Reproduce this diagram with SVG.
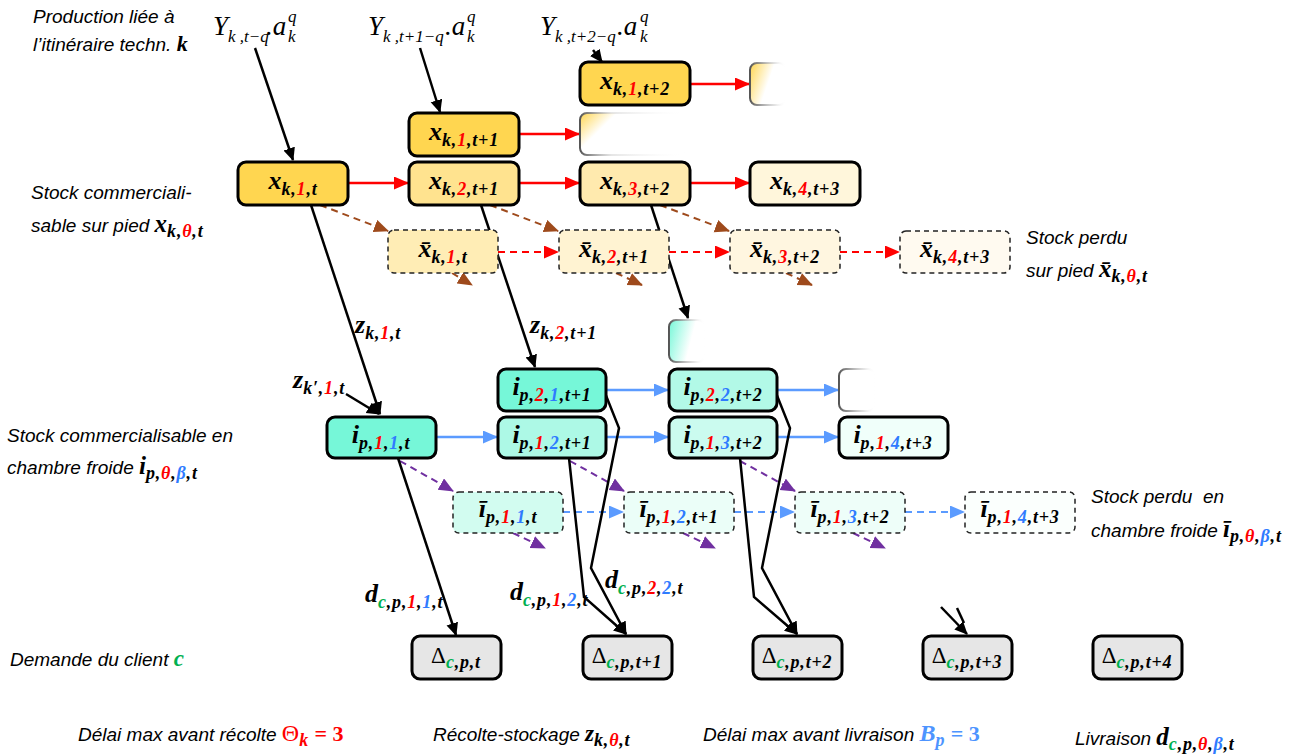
<svg xmlns="http://www.w3.org/2000/svg" width="1307" height="756" viewBox="0 0 1307 756">
<style>
.lab{font-family:"Liberation Sans",Arial,sans-serif;font-style:italic;font-size:19px;fill:#000}
.m{font-family:"Liberation Serif","DejaVu Serif",serif;font-style:italic;font-weight:bold;font-size:26px;fill:#000}
.s{font-size:18px;letter-spacing:0.8px}
.tm{font-family:"Liberation Serif","Times New Roman",serif;font-style:italic;font-size:27px;fill:#000}
.ts{font-size:17px}
.up{font-style:normal;font-weight:normal}
.r{fill:#FF0000}
.b{fill:#2F7BFF}
.g{fill:#00B050}
.node{stroke:#000;stroke-width:3}
.dash{stroke:#222;stroke-width:1.5;stroke-dasharray:5 4}
.blk{stroke:#000;stroke-width:2.5;fill:none}
.red{stroke:#FF0000;stroke-width:2.5;fill:none}
.blu{stroke:#5B9BFF;stroke-width:2.5;fill:none}
.redd{stroke:#FF0000;stroke-width:2;fill:none;stroke-dasharray:7 5}
.blud{stroke:#5B9BFF;stroke-width:2;fill:none;stroke-dasharray:7 5}
.brn{stroke:#9E4A1C;stroke-width:2;fill:none;stroke-dasharray:7 5}
.pur{stroke:#7030A0;stroke-width:2;fill:none;stroke-dasharray:7 5}
</style>
<defs>
<marker id="ak" markerUnits="userSpaceOnUse" markerWidth="14" markerHeight="14" refX="12" refY="6" orient="auto"><path d="M0,0 L13,6 L0,12 Z" fill="#000"/></marker>
<marker id="ar" markerUnits="userSpaceOnUse" markerWidth="16" markerHeight="14" refX="14" refY="6.5" orient="auto"><path d="M0,0 L15,6.5 L0,13 Z" fill="#FF0000"/></marker>
<marker id="ab" markerUnits="userSpaceOnUse" markerWidth="16" markerHeight="14" refX="14" refY="6.5" orient="auto"><path d="M0,0 L15,6.5 L0,13 Z" fill="#5B9BFF"/></marker>
<marker id="an" markerUnits="userSpaceOnUse" markerWidth="16" markerHeight="14" refX="14" refY="6.5" orient="auto"><path d="M0,0 L15,6.5 L0,13 Z" fill="#9E4A1C"/></marker>
<marker id="ap" markerUnits="userSpaceOnUse" markerWidth="16" markerHeight="14" refX="14" refY="6.5" orient="auto"><path d="M0,0 L15,6.5 L0,13 Z" fill="#7030A0"/></marker>
<linearGradient id="fy" x1="0" y1="0" x2="1" y2="0.4"><stop offset="0" stop-color="#FFD650"/><stop offset="0.3" stop-color="#FFFFFF"/></linearGradient>
<linearGradient id="fyb" x1="0" y1="0" x2="1" y2="0.4"><stop offset="0" stop-color="#FFD650"/><stop offset="0.6" stop-color="#FFFFFF"/></linearGradient>
<linearGradient id="ft" x1="0" y1="0" x2="1" y2="0.3"><stop offset="0" stop-color="#76F7D8"/><stop offset="0.7" stop-color="#FFFFFF"/></linearGradient>
<linearGradient id="fs" x1="0" y1="0" x2="1" y2="0"><stop offset="0" stop-color="#555"/><stop offset="0.3" stop-color="#CCC" stop-opacity="0.5"/><stop offset="1" stop-color="#FFF" stop-opacity="0"/></linearGradient>
<linearGradient id="fs2" x1="0" y1="0" x2="1" y2="0"><stop offset="0" stop-color="#555"/><stop offset="0.7" stop-color="#CCC" stop-opacity="0.5"/><stop offset="1" stop-color="#FFF" stop-opacity="0"/></linearGradient>
</defs>

<!-- left / right labels -->
<g id="labels">
<text class="lab" x="33" y="23">Production liée à</text>
<text class="lab" x="33" y="51">l’itinéraire techn. <tspan class="m" style="font-size:22px">k</tspan></text>
<text class="lab" x="31" y="199">Stock commerciali-</text>
<text class="lab" x="31" y="232">sable sur pied <tspan class="m" style="font-size:25px">x</tspan><tspan class="m s" dy="5">k,</tspan><tspan class="m s r">θ</tspan><tspan class="m s">,t</tspan></text>
<text class="lab" x="1026" y="244">Stock perdu</text>
<text class="lab" x="1026" y="277">sur pied <tspan class="m" style="font-size:25px">x̄</tspan><tspan class="m s" dy="5">k,</tspan><tspan class="m s r">θ</tspan><tspan class="m s">,t</tspan></text>
<text class="lab" x="7" y="442">Stock commercialisable en</text>
<text class="lab" x="7" y="474">chambre froide <tspan class="m" style="font-size:25px">i</tspan><tspan class="m s" dy="5">p,</tspan><tspan class="m s r">θ</tspan><tspan class="m s">,</tspan><tspan class="m s b">β</tspan><tspan class="m s">,t</tspan></text>
<text class="lab" x="1091" y="503" xml:space="preserve">Stock perdu  en</text>
<text class="lab" x="1091" y="537">chambre froide <tspan class="m" style="font-size:25px">ī</tspan><tspan class="m s" dy="5">p,</tspan><tspan class="m s r">θ</tspan><tspan class="m s">,</tspan><tspan class="m s b">β</tspan><tspan class="m s">,t</tspan></text>
<text class="lab" x="10" y="666">Demande du client <tspan class="m g" style="font-size:23px">c</tspan></text>
<text class="lab" x="78" y="741">Délai max avant récolte <tspan class="m up r" style="font-size:24px">Θ</tspan><tspan class="m s r" dy="5">k</tspan><tspan class="m up r" style="font-size:22px;font-weight:bold" dy="-5"> = 3</tspan></text>
<text class="lab" x="433" y="741">Récolte-stockage <tspan class="m" style="font-size:23px">z</tspan><tspan class="m s" dy="5">k,</tspan><tspan class="m s r">θ</tspan><tspan class="m s">,t</tspan></text>
<text class="lab" x="703" y="741">Délai max avant livraison <tspan class="m" style="font-size:24px;fill:#4D94FF">B</tspan><tspan class="m s" dy="5" style="fill:#4D94FF">p</tspan><tspan class="m up" style="font-size:22px;font-weight:bold;fill:#4D94FF" dy="-5"> = 3</tspan></text>
<text class="lab" x="1075" y="745">Livraison <tspan class="m" style="font-size:25px">d</tspan><tspan class="m s g" dy="5">c</tspan><tspan class="m s">,p,</tspan><tspan class="m s r">θ</tspan><tspan class="m s">,</tspan><tspan class="m s b">β</tspan><tspan class="m s">,t</tspan></text>
</g>

<!-- top production formulas -->
<g id="prod1">
<text class="tm" x="213" y="35">Y<tspan class="ts" dy="7">k ,t−q</tspan></text>
<text class="tm" x="266" y="35">.a</text>
<text class="tm ts" x="288" y="22">q</text><text class="tm ts" x="288" y="42">k</text>
</g>
<g id="prod2">
<text class="tm" x="368" y="35">Y<tspan class="ts" dy="7">k ,t+1−q</tspan></text>
<text class="tm" x="445" y="35">.a</text>
<text class="tm ts" x="467" y="22">q</text><text class="tm ts" x="467" y="42">k</text>
</g>
<g id="prod3">
<text class="tm" x="540" y="35">Y<tspan class="ts" dy="7">k ,t+2−q</tspan></text>
<text class="tm" x="617" y="35">.a</text>
<text class="tm ts" x="640" y="22">q</text><text class="tm ts" x="640" y="42">k</text>
</g>

<!-- connectors -->
<g id="connectors">
<line class="blk" x1="255" y1="48" x2="293" y2="160" marker-end="url(#ak)"/>
<line class="blk" x1="420" y1="48" x2="440" y2="112" marker-end="url(#ak)"/>
<line class="blk" x1="593" y1="50" x2="602" y2="62" marker-end="url(#ak)"/>
<line class="red" x1="348" y1="183" x2="408" y2="183" marker-end="url(#ar)"/>
<line class="red" x1="519" y1="183" x2="579" y2="183" marker-end="url(#ar)"/>
<line class="red" x1="690" y1="183" x2="749" y2="183" marker-end="url(#ar)"/>
<line class="red" x1="519" y1="134" x2="579" y2="134" marker-end="url(#ar)"/>
<line class="red" x1="690" y1="84" x2="749" y2="84" marker-end="url(#ar)"/>
<line class="redd" x1="498" y1="252" x2="558" y2="252" marker-end="url(#ar)"/>
<line class="redd" x1="669" y1="252" x2="729" y2="252" marker-end="url(#ar)"/>
<line class="redd" x1="840" y1="252" x2="899" y2="252" marker-end="url(#ar)"/>
<line class="brn" x1="320" y1="205" x2="388" y2="231" marker-end="url(#an)"/>
<line class="brn" x1="490" y1="205" x2="558" y2="231" marker-end="url(#an)"/>
<line class="brn" x1="660" y1="205" x2="729" y2="231" marker-end="url(#an)"/>
<line class="brn" x1="452" y1="273" x2="472" y2="285" marker-end="url(#an)"/>
<line class="brn" x1="616" y1="273" x2="642" y2="285" marker-end="url(#an)"/>
<line class="brn" x1="786" y1="273" x2="812" y2="285" marker-end="url(#an)"/>
<line class="blk" x1="311" y1="205" x2="380" y2="414" marker-end="url(#ak)"/>
<line class="blk" x1="481" y1="205" x2="535" y2="367" marker-end="url(#ak)"/>
<line class="blk" x1="651" y1="205" x2="688" y2="318" marker-end="url(#ak)"/>
<line class="blk" x1="346" y1="394" x2="379" y2="414" marker-end="url(#ak)"/>
<line class="blu" x1="436" y1="437" x2="497" y2="437" marker-end="url(#ab)"/>
<line class="blu" x1="606" y1="437" x2="668" y2="437" marker-end="url(#ab)"/>
<line class="blu" x1="606" y1="390" x2="668" y2="390" marker-end="url(#ab)"/>
<line class="blu" x1="777" y1="437" x2="838" y2="437" marker-end="url(#ab)"/>
<line class="blu" x1="777" y1="390" x2="838" y2="390" marker-end="url(#ab)"/>
<line class="blud" x1="563" y1="512" x2="623" y2="512" marker-end="url(#ab)"/>
<line class="blud" x1="734" y1="512" x2="794" y2="512" marker-end="url(#ab)"/>
<line class="blud" x1="905" y1="512" x2="964" y2="512" marker-end="url(#ab)"/>
<line class="pur" x1="400" y1="461" x2="453" y2="491" marker-end="url(#ap)"/>
<line class="pur" x1="570" y1="461" x2="624" y2="491" marker-end="url(#ap)"/>
<line class="pur" x1="740" y1="461" x2="795" y2="491" marker-end="url(#ap)"/>
<line class="pur" x1="513" y1="533" x2="545" y2="548" marker-end="url(#ap)"/>
<line class="pur" x1="683" y1="533" x2="715" y2="548" marker-end="url(#ap)"/>
<line class="pur" x1="853" y1="533" x2="885" y2="548" marker-end="url(#ap)"/>
<line class="blk" x1="398" y1="458" x2="456" y2="635" marker-end="url(#ak)"/>
<polyline class="blk" points="605,393 619,428 591,568 626,634" marker-end="url(#ak)"/>
<polyline class="blk" points="569,458 584,597 626,634" marker-end="url(#ak)"/>
<polyline class="blk" points="776,393 790,428 762,568 797,634" marker-end="url(#ak)"/>
<polyline class="blk" points="740,458 754,597 797,634" marker-end="url(#ak)"/>
<polyline class="blk" points="941,607 967,634" marker-end="url(#ak)"/>
<line class="blk" x1="957" y1="608" x2="964" y2="623"/>
</g>

<!-- x nodes -->
<g id="x_k1t"><rect class="node" x="238" y="162" width="110" height="43" rx="8" fill="#FFD650"/>
<text class="m" x="293" y="189" text-anchor="middle">x<tspan class="s" dy="6">k,</tspan><tspan class="s r">1</tspan><tspan class="s">,t</tspan></text></g>
<g id="x_k2t1"><rect class="node" x="409" y="162" width="110" height="43" rx="8" fill="#FFE38F"/>
<text class="m" x="464" y="189" text-anchor="middle">x<tspan class="s" dy="6">k,</tspan><tspan class="s r">2</tspan><tspan class="s">,t+1</tspan></text></g>
<g id="x_k3t2"><rect class="node" x="580" y="162" width="110" height="43" rx="8" fill="#FFEAAE"/>
<text class="m" x="635" y="189" text-anchor="middle">x<tspan class="s" dy="6">k,</tspan><tspan class="s r">3</tspan><tspan class="s">,t+2</tspan></text></g>
<g id="x_k4t3"><rect class="node" x="750" y="162" width="110" height="43" rx="8" fill="#FFF6DB"/>
<text class="m" x="805" y="189" text-anchor="middle">x<tspan class="s" dy="6">k,</tspan><tspan class="s r">4</tspan><tspan class="s">,t+3</tspan></text></g>
<g id="x_k1t1"><rect class="node" x="409" y="113" width="110" height="43" rx="8" fill="#FFD650"/>
<text class="m" x="464" y="140" text-anchor="middle">x<tspan class="s" dy="6">k,</tspan><tspan class="s r">1</tspan><tspan class="s">,t+1</tspan></text></g>
<g id="x_k1t2"><rect class="node" x="580" y="62" width="110" height="43" rx="8" fill="#FFD650"/>
<text class="m" x="635" y="89" text-anchor="middle">x<tspan class="s" dy="6">k,</tspan><tspan class="s r">1</tspan><tspan class="s">,t+2</tspan></text></g>
<g id="fade1"><rect x="580" y="113" width="106" height="42" rx="7" fill="url(#fy)" stroke="url(#fs)" stroke-width="2"/></g>
<g id="fade2"><rect x="750" y="63" width="36" height="42" rx="7" fill="url(#fyb)" stroke="url(#fs2)" stroke-width="2"/></g>

<!-- x bar nodes -->
<g id="xb_k1t"><rect class="dash" x="388" y="230" width="110" height="43" rx="6" fill="#FFEDB5"/>
<text class="m" x="443" y="257" text-anchor="middle">x̄<tspan class="s" dy="6">k,</tspan><tspan class="s r">1</tspan><tspan class="s">,t</tspan></text></g>
<g id="xb_k2t1"><rect class="dash" x="559" y="230" width="110" height="43" rx="6" fill="#FFF3D2"/>
<text class="m" x="614" y="257" text-anchor="middle">x̄<tspan class="s" dy="6">k,</tspan><tspan class="s r">2</tspan><tspan class="s">,t+1</tspan></text></g>
<g id="xb_k3t2"><rect class="dash" x="730" y="230" width="110" height="43" rx="6" fill="#FFF6E0"/>
<text class="m" x="785" y="257" text-anchor="middle">x̄<tspan class="s" dy="6">k,</tspan><tspan class="s r">3</tspan><tspan class="s">,t+2</tspan></text></g>
<g id="xb_k4t3"><rect class="dash" x="900" y="231" width="110" height="42" rx="6" fill="#FFFAF0"/>
<text class="m" x="955" y="257" text-anchor="middle">x̄<tspan class="s" dy="6">k,</tspan><tspan class="s r">4</tspan><tspan class="s">,t+3</tspan></text></g>

<!-- i nodes -->
<g id="fade3"><rect x="669" y="320" width="36" height="42" rx="7" fill="url(#ft)" stroke="url(#fs2)" stroke-width="2"/></g>
<g id="fade4"><rect x="839" y="369" width="36" height="42" rx="7" fill="#FFFFFF" stroke="url(#fs2)" stroke-width="2"/></g>
<g id="i_p11t"><rect class="node" x="327" y="417" width="109" height="41" rx="8" fill="#76F7D8"/>
<text class="m" x="381" y="443" text-anchor="middle">i<tspan class="s" dy="6">p,</tspan><tspan class="s r">1</tspan><tspan class="s">,</tspan><tspan class="s b">1</tspan><tspan class="s">,t</tspan></text></g>
<g id="i_p21t1"><rect class="node" x="498" y="369" width="108" height="42" rx="8" fill="#76F7D8"/>
<text class="m" x="552" y="395" text-anchor="middle">i<tspan class="s" dy="6">p,</tspan><tspan class="s r">2</tspan><tspan class="s">,</tspan><tspan class="s b">1</tspan><tspan class="s">,t+1</tspan></text></g>
<g id="i_p12t1"><rect class="node" x="498" y="417" width="108" height="41" rx="8" fill="#ADF9E6"/>
<text class="m" x="552" y="443" text-anchor="middle">i<tspan class="s" dy="6">p,</tspan><tspan class="s r">1</tspan><tspan class="s">,</tspan><tspan class="s b">2</tspan><tspan class="s">,t+1</tspan></text></g>
<g id="i_p22t2"><rect class="node" x="669" y="369" width="108" height="42" rx="8" fill="#B2F9E7"/>
<text class="m" x="723" y="395" text-anchor="middle">i<tspan class="s" dy="6">p,</tspan><tspan class="s r">2</tspan><tspan class="s">,</tspan><tspan class="s b">2</tspan><tspan class="s">,t+2</tspan></text></g>
<g id="i_p13t2"><rect class="node" x="669" y="417" width="108" height="41" rx="8" fill="#CBFBEF"/>
<text class="m" x="723" y="443" text-anchor="middle">i<tspan class="s" dy="6">p,</tspan><tspan class="s r">1</tspan><tspan class="s">,</tspan><tspan class="s b">3</tspan><tspan class="s">,t+2</tspan></text></g>
<g id="i_p14t3"><rect class="node" x="839" y="417" width="109" height="41" rx="8" fill="#F0FFFA"/>
<text class="m" x="893" y="443" text-anchor="middle">i<tspan class="s" dy="6">p,</tspan><tspan class="s r">1</tspan><tspan class="s">,</tspan><tspan class="s b">4</tspan><tspan class="s">,t+3</tspan></text></g>

<!-- i bar nodes -->
<g id="ib_p11t"><rect class="dash" x="453" y="492" width="110" height="41" rx="6" fill="#D2FCF0"/>
<text class="m" x="508" y="517" text-anchor="middle">ī<tspan class="s" dy="6">p,</tspan><tspan class="s r">1</tspan><tspan class="s">,</tspan><tspan class="s b">1</tspan><tspan class="s">,t</tspan></text></g>
<g id="ib_p12t1"><rect class="dash" x="624" y="492" width="110" height="41" rx="6" fill="#EBFEF8"/>
<text class="m" x="679" y="517" text-anchor="middle">ī<tspan class="s" dy="6">p,</tspan><tspan class="s r">1</tspan><tspan class="s">,</tspan><tspan class="s b">2</tspan><tspan class="s">,t+1</tspan></text></g>
<g id="ib_p13t2"><rect class="dash" x="795" y="492" width="110" height="41" rx="6" fill="#EEFEF9"/>
<text class="m" x="850" y="517" text-anchor="middle">ī<tspan class="s" dy="6">p,</tspan><tspan class="s r">1</tspan><tspan class="s">,</tspan><tspan class="s b">3</tspan><tspan class="s">,t+2</tspan></text></g>
<g id="ib_p14t3"><rect class="dash" x="965" y="492" width="110" height="41" rx="6" fill="#FBFFFD"/>
<text class="m" x="1020" y="517" text-anchor="middle">ī<tspan class="s" dy="6">p,</tspan><tspan class="s r">1</tspan><tspan class="s">,</tspan><tspan class="s b">4</tspan><tspan class="s">,t+3</tspan></text></g>

<!-- connector labels -->
<g id="edge_labels">
<text class="m" x="355" y="333">z<tspan class="s" dy="6">k,</tspan><tspan class="s r">1</tspan><tspan class="s">,t</tspan></text>
<text class="m" x="530" y="333">z<tspan class="s" dy="6">k,</tspan><tspan class="s r">2</tspan><tspan class="s">,t+1</tspan></text>
<text class="m" x="293" y="388">z<tspan class="s" dy="6">k′,</tspan><tspan class="s r">1</tspan><tspan class="s">,t</tspan></text>
<text class="m" x="365" y="602">d<tspan class="s g" dy="6">c</tspan><tspan class="s">,p,</tspan><tspan class="s r">1</tspan><tspan class="s">,</tspan><tspan class="s b">1</tspan><tspan class="s">,t</tspan></text>
<text class="m" x="510" y="600">d<tspan class="s g" dy="6">c</tspan><tspan class="s">,p,</tspan><tspan class="s r">1</tspan><tspan class="s">,</tspan><tspan class="s b">2</tspan><tspan class="s">,t</tspan></text>
<text class="m" x="605" y="588">d<tspan class="s g" dy="6">c</tspan><tspan class="s">,p,</tspan><tspan class="s r">2</tspan><tspan class="s">,</tspan><tspan class="s b">2</tspan><tspan class="s">,t</tspan></text>
</g>

<!-- demand nodes -->
<g id="D_t"><rect class="node" x="412" y="636" width="89" height="43" rx="8" fill="#E6E6E6"/>
<text class="m" x="456" y="663" text-anchor="middle"><tspan class="up" style="font-size:23px">Δ</tspan><tspan class="s g" dy="5">c</tspan><tspan class="s">,p,t</tspan></text></g>
<g id="D_t1"><rect class="node" x="583" y="636" width="89" height="43" rx="8" fill="#E6E6E6"/>
<text class="m" x="627" y="663" text-anchor="middle"><tspan class="up" style="font-size:23px">Δ</tspan><tspan class="s g" dy="5">c</tspan><tspan class="s">,p,t+1</tspan></text></g>
<g id="D_t2"><rect class="node" x="753" y="636" width="89" height="43" rx="8" fill="#E6E6E6"/>
<text class="m" x="797" y="663" text-anchor="middle"><tspan class="up" style="font-size:23px">Δ</tspan><tspan class="s g" dy="5">c</tspan><tspan class="s">,p,t+2</tspan></text></g>
<g id="D_t3"><rect class="node" x="923" y="636" width="89" height="43" rx="8" fill="#E6E6E6"/>
<text class="m" x="967" y="663" text-anchor="middle"><tspan class="up" style="font-size:23px">Δ</tspan><tspan class="s g" dy="5">c</tspan><tspan class="s">,p,t+3</tspan></text></g>
<g id="D_t4"><rect class="node" x="1093" y="636" width="89" height="43" rx="8" fill="#E6E6E6"/>
<text class="m" x="1137" y="663" text-anchor="middle"><tspan class="up" style="font-size:23px">Δ</tspan><tspan class="s g" dy="5">c</tspan><tspan class="s">,p,t+4</tspan></text></g>
</svg>
